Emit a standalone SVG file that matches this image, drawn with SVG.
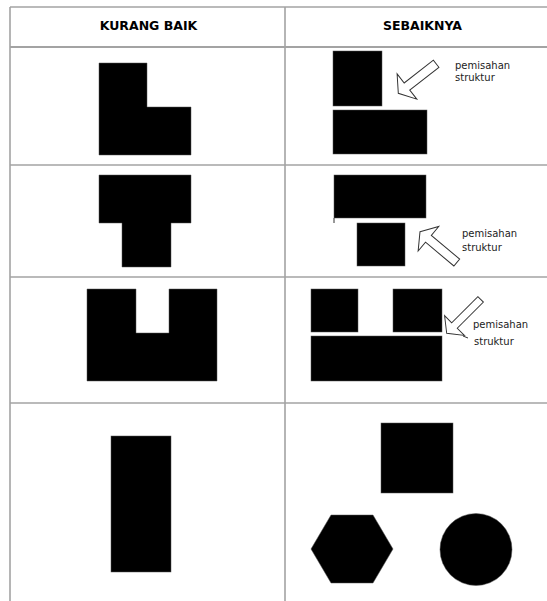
<svg xmlns="http://www.w3.org/2000/svg" width="547" height="601" viewBox="0 0 547 601">
<defs>
<style>
.grid{stroke:#a3a3a3;stroke-width:1.6;fill:none}
.shape{fill:#000;stroke:#555;stroke-width:0.5}
.arrow{fill:#fff;stroke:#333;stroke-width:1}
.hdr{font-family:"DejaVu Sans",Verdana,sans-serif;font-weight:bold;font-size:12.5px;fill:#000;text-anchor:middle}
.lbl{font-family:"DejaVu Sans",Tahoma,sans-serif;font-size:10px;fill:#222}
</style>
<polygon id="arrowShape" points="0,0 11,-16 11,-4.5 48,-4.5 48,4.5 11,4.5 11,16"/>
</defs>
<rect width="547" height="601" fill="#fff"/>
<g id="table">
<line class="grid" x1="10" y1="7" x2="547" y2="7"/>
<line class="grid" x1="10" y1="7" x2="10" y2="601"/>
<line class="grid" x1="285" y1="7" x2="285" y2="601"/>
<line class="grid" x1="10" y1="47" x2="547" y2="47" style="stroke-width:2"/>
<line class="grid" x1="10" y1="165" x2="547" y2="165"/>
<line class="grid" x1="10" y1="277" x2="547" y2="277"/>
<line class="grid" x1="10" y1="403" x2="547" y2="403"/>
<text class="hdr" x="148.5" y="30">KURANG BAIK</text>
<text class="hdr" x="422.5" y="30">SEBAIKNYA</text>
</g>
<g id="row1-bad"><polygon class="shape" points="99,63 147,63 147,107 191,107 191,155 99,155"/></g>
<g id="row1-good">
<rect class="shape" x="333" y="51" width="49" height="55"/>
<rect class="shape" x="333" y="110" width="94" height="44"/>
<use href="#arrowShape" class="arrow" transform="translate(398.3,93.3) rotate(-38)"/>
<text class="lbl" x="455" y="69">pemisahan</text>
<text class="lbl" x="455" y="81">struktur</text>
</g>
<g id="row2-bad"><polygon class="shape" points="99,175 191,175 191,223 171,223 171,267 122,267 122,223 99,223"/></g>
<g id="row2-good">
<rect class="shape" x="334" y="175" width="92" height="43"/>
<line x1="334" y1="218" x2="334" y2="223" stroke="#333" stroke-width="1"/>
<rect class="shape" x="357" y="223" width="48" height="43"/>
<use href="#arrowShape" class="arrow" transform="translate(420,231.7) rotate(40)"/>
<text class="lbl" x="462" y="237">pemisahan</text>
<text class="lbl" x="462" y="251">struktur</text>
</g>
<g id="row3-bad"><polygon class="shape" points="87,289 136,289 136,333 169,333 169,289 217,289 217,381 87,381"/></g>
<g id="row3-good">
<rect class="shape" x="311" y="289" width="47" height="43"/>
<rect class="shape" x="393" y="289" width="49" height="43"/>
<rect class="shape" x="311" y="336" width="131" height="45"/>
<use href="#arrowShape" class="arrow" transform="translate(446.7,333.3) rotate(-45) scale(1,0.875)"/>
<line x1="463" y1="336" x2="468" y2="338" stroke="#333" stroke-width="1"/>
<text class="lbl" x="473" y="328">pemisahan</text>
<text class="lbl" x="474" y="345">struktur</text>
</g>
<g id="row4-bad"><rect class="shape" x="111" y="436" width="60" height="136"/></g>
<g id="row4-good">
<rect class="shape" x="381" y="423" width="72" height="70"/>
<polygon class="shape" points="331,515 373,515 393,549 373,583 331,583 311,549"/>
<circle class="shape" cx="476" cy="549.5" r="36"/>
</g>
</svg>
